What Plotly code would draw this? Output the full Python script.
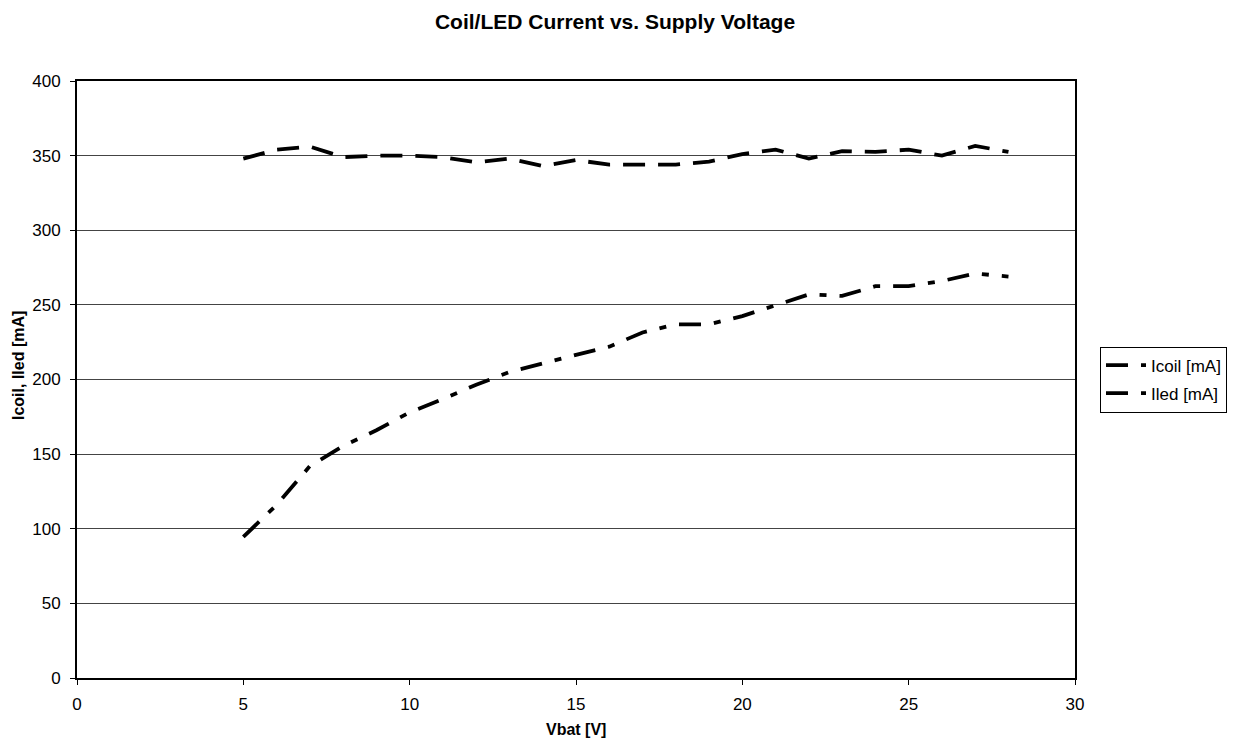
import plotly.graph_objects as go

vbat = [5, 6, 7, 8, 9, 10, 11, 12, 13, 14, 15, 16, 17, 18, 19, 20, 21, 22, 23, 24, 25, 26, 27, 28]
icoil = [348, 354, 356, 349, 350, 350, 349, 345.5, 348, 343, 347, 344, 344, 344, 346, 351, 354, 348, 353, 352.5, 354, 350, 356.5, 352.5]
iled = [94.5, 116, 142, 155.5, 166, 178, 187, 196.5, 205, 211, 216.5, 222, 231.5, 237, 237, 242.5, 250, 257, 256, 262.5, 262.5, 266, 271, 269]

font = "Liberation Sans, Arial, sans-serif"

# page has 8px body margin -> figure drawn at (8,8)
W, H = 1232, 737
L, R, T, B = 69, 165, 73, 67
pw, ph = W - L - R, H - T - B

fig = go.Figure()
fig.add_trace(go.Scatter(x=vbat, y=icoil, mode="lines", name="Icoil [mA]", legendgroup="a",
                         line=dict(color="black", width=3.8, dash="22px,13px")))
fig.add_trace(go.Scatter(x=vbat, y=iled, mode="lines", name="Iled [mA]", legendgroup="b",
                         line=dict(color="black", width=3.8, dash="22px,13px,7px,13px")))

fig.update_layout(
    width=W, height=H,
    paper_bgcolor="white", plot_bgcolor="white",
    margin=dict(l=L, r=R, t=T, b=B, autoexpand=False),
    font=dict(family=font, size=17, color="black"),
    title=dict(text="<b>Coil/LED Current vs. Supply Voltage</b>", x=607 / W, xanchor="center",
               xref="container", y=1 - 14 / H, yanchor="middle", font=dict(size=21, family=font)),
    showlegend=True,
    legend=dict(x=(1100 - 77) / pw, xanchor="left", y=0.5, yanchor="middle",
                bordercolor="black", borderwidth=1, bgcolor="white", itemwidth=40,
                font=dict(size=17, family=font), tracegroupgap=3),
    xaxis=dict(range=[0, 30], dtick=5, showgrid=False, zeroline=False,
               showline=True, linecolor="black", linewidth=2, mirror=True,
               ticks="outside", ticklen=5, tickcolor="black", ticklabelstandoff=5,
               tickfont=dict(size=17)),
    yaxis=dict(range=[0, 400], dtick=50, showgrid=True, gridcolor="#444444", gridwidth=1,
               zeroline=False, showline=True, linecolor="black", linewidth=2, mirror=True,
               ticks="outside", ticklen=5, tickcolor="black", ticklabelstandoff=6,
               tickfont=dict(size=17)),
    annotations=[
        dict(text="<b>Vbat [V]</b>", xref="paper", yref="paper",
             x=(576 - 77) / pw, y=-(729 - 678) / ph, xanchor="center", yanchor="middle",
             showarrow=False, font=dict(size=16, family=font)),
        dict(text="<b>Icoil, Iled [mA]</b>", xref="paper", yref="paper", textangle=-90,
             x=-(77 - 18) / pw, y=(678 - 366) / ph, xanchor="center", yanchor="middle",
             showarrow=False, font=dict(size=16, family=font)),
    ],
)

fig.write_html("out.html")
